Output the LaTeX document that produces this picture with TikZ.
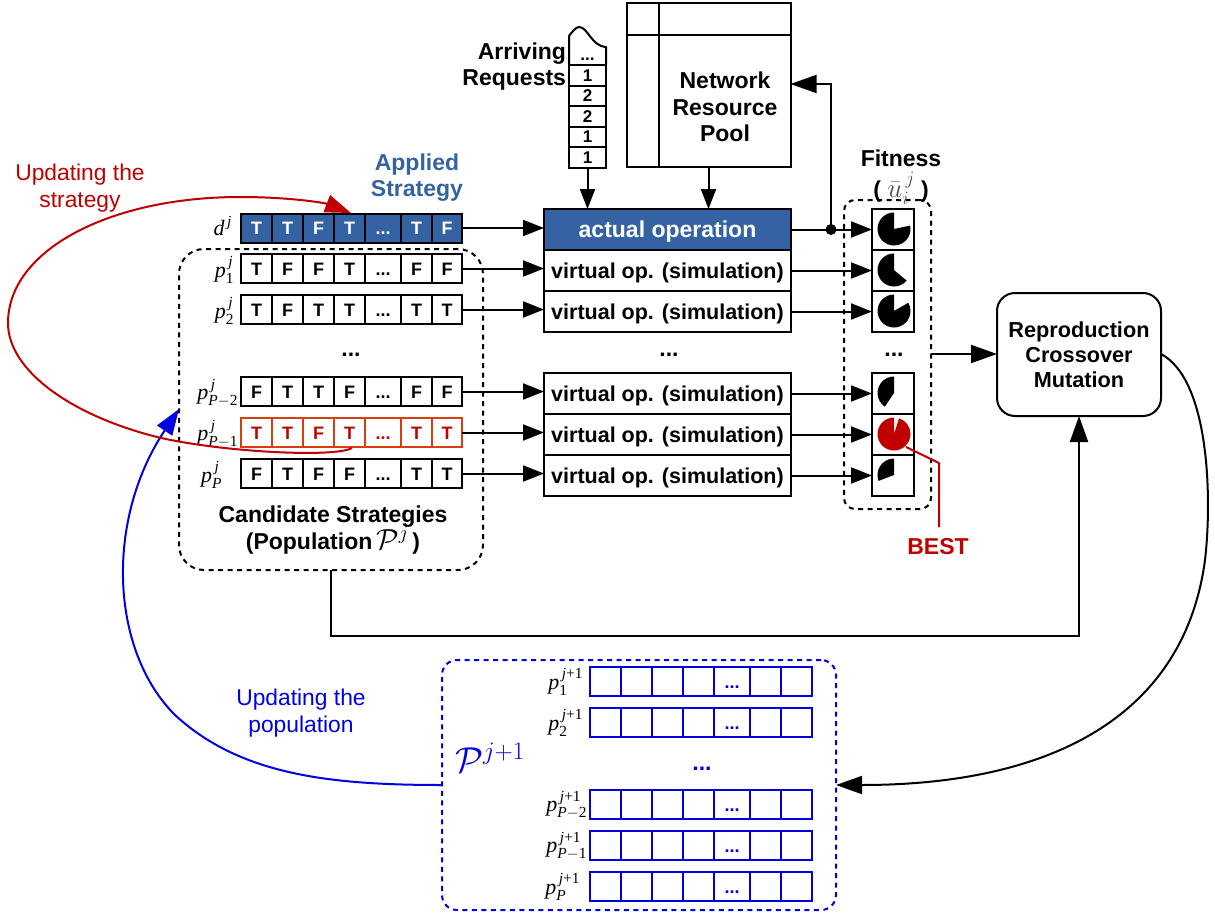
\documentclass[tikz,border=0pt]{standalone}
\usepackage{fix-cm}
\usepackage{amsmath}
\usepackage{fontspec}
\setmainfont{Liberation Sans}
\newfontfamily\serfont{Liberation Serif}
\usetikzlibrary{arrows.meta}
\definecolor{appblue}{RGB}{52,98,162}
\definecolor{bestred}{RGB}{192,0,0}
\definecolor{cellred}{RGB}{214,64,16}
\definecolor{newblue}{RGB}{0,0,224}
\newcommand{\ivar}[1]{\text{\serfont\itshape #1}}
\newcommand{\rvar}[1]{\text{\serfont #1}}
\newcommand{\plabel}[2]{$\ivar{p}^{\,#1}_{#2}$}
\newcommand{\Pm}[1]{\ivar{P}\rvar{$-$#1}}
\newcommand{\jj}{\ivar{j}}
\newcommand{\jp}{\ivar{j}\rvar{+1}}
\newcommand{\dd}{...}
% \stripcells{name}{top}{cells as x1/x2/text}{style}
\newcommand{\stripcells}[4]{%
  \foreach \xa/\xb/\lab [count=\n] in {#3} {%
    \pgfmathsetmacro{\cx}{(\xa+\xb)/2}%
    \pgfmathsetmacro{\cy}{#2+14.5}%
    \pgfmathsetmacro{\cw}{\xb-\xa}%
    \node[#4,minimum width=\cw pt,minimum height=29pt] (#1-\n) at (\cx,\cy) {\lab};
  }}
\newcommand{\tfrow}[9]{\stripcells{#1}{#2}{241/272/#3,272/303/#4,303/334/#5,334/365/#6,365/401/{\dd},401/432/#7,432/462/#8}{#9}}
\newcommand{\bluerow}[2]{\stripcells{#1}{#2}{590/621/{},621/652/{},652/683/{},683/714/{},714/750/{\dd},750/781/{},781/812/{}}{bluecell}}
\newcommand{\pieshape}[5]{%
  \begin{scope}[shift={(#1,#2)},x=1pt,y=1pt]
    \fill[#5] (0,0) -- (#3:16.5) arc[start angle=#3,end angle=#4,radius=16.5] -- cycle;
  \end{scope}}
\begin{document}
\begin{tikzpicture}[x=1pt,y=-1pt,
  cellbase/.style={draw,line width=2pt,inner sep=0pt,outer sep=0pt,font=\bfseries\fontsize{18}{20}\selectfont,text height=13pt,text depth=0pt},
  plaincell/.style={cellbase,fill=white,text=black},
  appcell/.style={cellbase,fill=appblue,text=white},
  redcell/.style={cellbase,draw=cellred,fill=white,text=bestred},
  bluecell/.style={cellbase,draw=newblue,fill=white,text=newblue},
  opbox/.style={draw,line width=2pt,inner sep=0pt,outer sep=0pt,minimum width=247pt,minimum height=41pt,fill=white,font=\bfseries\fontsize{21.5}{24}\selectfont,text height=18pt,text depth=3pt},
  fitcell/.style={draw,line width=2pt,inner sep=0pt,outer sep=0pt,minimum width=42pt,minimum height=41pt},
  reqcell/.style={draw,line width=2pt,inner sep=0pt,outer sep=0pt,minimum width=37pt,minimum height=20.5pt,font=\bfseries\fontsize{17}{20}\selectfont},
  link/.style={line width=2pt,-{Triangle[length=21pt,width=16pt]}},
  biglink/.style={line width=2pt,-{Triangle[length=26pt,width=18pt]}},
  dashbox/.style={draw,line width=2pt,dash pattern=on 5pt off 4.5pt,inner sep=0pt,outer sep=0pt},
  txt/.style={inner sep=0pt,outer sep=0pt,align=center,font=\bfseries\fontsize{23}{26}\selectfont},
  lbl/.style={inner sep=0pt,outer sep=0pt,anchor=east,font=\fontsize{22}{24}\selectfont},
  rlabel/.style={inner sep=0pt,outer sep=0pt,align=center,font=\fontsize{22.8}{26.5}\selectfont},
  dotsn/.style={inner sep=0pt,outer sep=0pt,font=\bfseries\fontsize{23}{24}\selectfont}]
\useasboundingbox (0,0) rectangle (1215,915);

% ---------- dashed boxes first
\node[dashbox,rounded corners=25pt,minimum width=304pt,minimum height=321pt] (cand) at (331,409.5) {};
\node[dashbox,rounded corners=11pt,minimum width=87pt,minimum height=309pt] (fit) at (887.5,354.5) {};
\node[dashbox,draw=newblue,rounded corners=15pt,minimum width=394pt,minimum height=250pt] (next) at (639,785) {};

% ---------- strategy strips
\tfrow{d}{213.5}{T}{T}{F}{T}{T}{F}{appcell}
\tfrow{a}{254}{T}{F}{F}{T}{F}{F}{plaincell}
\tfrow{b}{295}{T}{F}{T}{T}{T}{T}{plaincell}
\tfrow{c}{377}{F}{T}{T}{F}{F}{F}{plaincell}
\tfrow{e}{418}{T}{T}{F}{T}{T}{T}{redcell}
\tfrow{f}{459}{F}{T}{F}{F}{T}{T}{plaincell}

\node[lbl] (ld) at (232,226) {$\ivar{d}^{\,\jj}$};
\node[lbl] (la) at (234,270) {\plabel{\jj}{\rvar{1}}};
\node[lbl] (lb) at (234,311) {\plabel{\jj}{\rvar{2}}};
\node[lbl] (lc) at (238,393) {\plabel{\jj}{\Pm{2}}};
\node[lbl] (le) at (238,434) {\plabel{\jj}{\Pm{1}}};
\node[lbl] (lf) at (222,475) {\plabel{\jj}{\ivar{P}}};
\node[dotsn] (dl) at (351,355) {...};

% ---------- operations
\node[opbox,fill=appblue,text=white,font=\bfseries\fontsize{23}{24}\selectfont] (op0) at (667.5,229.5) {actual operation};
\node[opbox] (op1) at (667.5,270.5) {virtual op. (simulation)};
\node[opbox] (op2) at (667.5,311.5) {virtual op. (simulation)};
\node[opbox] (op3) at (667.5,393.5) {virtual op. (simulation)};
\node[opbox] (op4) at (667.5,434.5) {virtual op. (simulation)};
\node[opbox] (op5) at (667.5,475.5) {virtual op. (simulation)};
\node[dotsn] (dm) at (669,355) {...};

% ---------- fitness cells
\node[fitcell] (f0) at (893,229) {};
\node[fitcell] (f1) at (893,270) {};
\node[fitcell] (f2) at (893,311) {};
\node[fitcell] (f3) at (893,393.5) {};
\node[fitcell] (f4) at (893,434.5) {};
\node[fitcell] (f5) at (893,475.5) {};
\node[dotsn] (dr) at (894,355) {...};
\pieshape{894}{229}{90}{372}{black}
\pieshape{894}{270}{90}{320}{black}
\pieshape{894}{311}{90}{390}{black}
\pieshape{894}{393}{90}{236}{black}
\pieshape{894}{434}{90}{432}{bestred}
\pieshape{894}{475}{90}{201}{black}

% ---------- requests stack
\node[reqcell] (r1) at (587.5,157.5) {1};
\node[reqcell] (r2) at (587.5,137) {1};
\node[reqcell] (r3) at (587.5,116.5) {2};
\node[reqcell] (r4) at (587.5,96) {2};
\node[reqcell] (r5) at (587.5,75.5) {1};
\draw[line width=2pt,line join=round] (r5.north west) -- (569,36) .. controls (572,32) and (576,27) .. (579,27)
   .. controls (588,27) and (591,46) .. (606,47) -- (r5.north east);
\node[inner sep=0pt,font=\bfseries\fontsize{17}{20}\selectfont,text height=12.5pt,text depth=0pt] (r6) at (587.5,54) {...};
\node[txt,align=right,anchor=east] (arr) at (566,66.5) {Arriving\\Requests};

% ---------- resource pool
\node[draw,line width=2pt,inner sep=0pt,outer sep=0pt,minimum width=164pt,minimum height=164pt] (pool) at (708.5,85) {};
\draw[line width=2pt] (659,3) coordinate (pv1) -- (659,167) coordinate (pv2);
\draw[line width=2pt] (627,35) coordinate (ph1) -- (790,35) coordinate (ph2);
\node[txt,font=\bfseries\fontsize{23}{26.5}\selectfont] (pooltxt) at (725,107) {Network\\Resource\\Pool};

% ---------- reproduction box
\node[draw,line width=2pt,inner sep=0pt,outer sep=0pt,rounded corners=18pt,minimum width=164pt,minimum height=123pt,align=center,font=\bfseries\fontsize{21.7}{25}\selectfont] (rep) at (1079,354.5) {Reproduction\\Crossover\\Mutation};

% ---------- next population strips
\bluerow{n1}{667}
\bluerow{n2}{708}
\bluerow{n3}{790}
\bluerow{n4}{831}
\bluerow{n5}{872}
\node[lbl] (ln1) at (583,682) {\plabel{\jp}{\rvar{1}}};
\node[lbl] (ln2) at (583,723) {\plabel{\jp}{\rvar{2}}};
\node[lbl] (ln3) at (587,805) {\plabel{\jp}{\Pm{2}}};
\node[lbl] (ln4) at (587,846) {\plabel{\jp}{\Pm{1}}};
\node[lbl] (ln5) at (580,887) {\plabel{\jp}{\ivar{P}}};
\node[dotsn,text=newblue] (dn) at (702,769) {...};
\node[inner sep=0pt,text=newblue,font=\fontsize{36}{40}\selectfont] (pn) at (490,758) {$\mathcal{P}^{j+1}$};

% ---------- texts
\node[txt,text=appblue] (app) at (417,178) {Applied\\Strategy};
\node[txt] (fittxt) at (901,158) {Fitness};
\node[txt] (fitsym) at (901,188) {( {\fontsize{27}{28}\selectfont\textcolor{black!70}{$\bar{u}_i^{\,j}$}} )};
\node[txt] (candtxt) at (333,530) {Candidate Strategies\\[-2pt](Population\,{\fontsize{29}{26}\selectfont$\mathcal{P}^{j}$}\,)};
\node[txt,text=bestred] (best) at (938,547) {BEST};
\node[rlabel,text=bestred] (us) at (80,188) {Updating the\\strategy};
\node[rlabel,text=newblue] (up) at (301,713) {Updating the\\population};

% ---------- connectors
\foreach \s/\t in {d-7/op0,a-7/op1,b-7/op2,c-7/op3,e-7/op4,f-7/op5}
  \draw[link] (\s.east) -- (\s.east -| \t.west);
\foreach \s/\t in {op1/f1,op2/f2,op3/f3,op4/f4,op5/f5}
  \draw[link] (\s.east) -- (\s.east -| \t.west);
\draw[link] (op0.east) -- (op0.east -| f0.west);
\coordinate (tap) at (831,229.5);
\fill (tap) circle (5.5pt);
\draw[biglink] (tap) -- (831,84) -- (pool.east |- 0,84);
\draw[link,-{Triangle[length=20pt,width=15pt]}] (r1.south) -- (r1.south |- op0.north);
\draw[link,-{Triangle[length=20pt,width=15pt]}] (pool.south) -- (pool.south |- op0.north);
\draw[biglink] (fit.east |- 0,354) -- (rep.west |- 0,354);
\draw[biglink] (cand.south) -- (331,636) -| (rep.south);
\coordinate (bestknee) at (939,463);
\draw[line width=2pt,bestred,line join=round] (906,447) -- (bestknee) -- (939,527);
\draw[biglink] (rep.east |- 0,354) .. controls (1210,380) and (1212,500) .. (1205,560)
   .. controls (1185,710) and (1060,785) .. (next.east |- 0,785);
\draw[biglink,newblue] (next.west |- 0,785) .. controls (330,785) and (240,775) .. (175,715)
   .. controls (110,650) and (105,520) .. (179,409);
\coordinate (redstart) at (352,448);
\coordinate (redend) at (351,213);
\draw[biglink,bestred] (redstart) .. controls (335,458) and (220,452) .. (157,437)
   .. controls (70,415) and (8,370) .. (8,323) .. controls (8,250) and (110,197) .. (240,197)
   .. controls (290,197) and (325,203) .. (redend);
\end{tikzpicture}
\end{document}
